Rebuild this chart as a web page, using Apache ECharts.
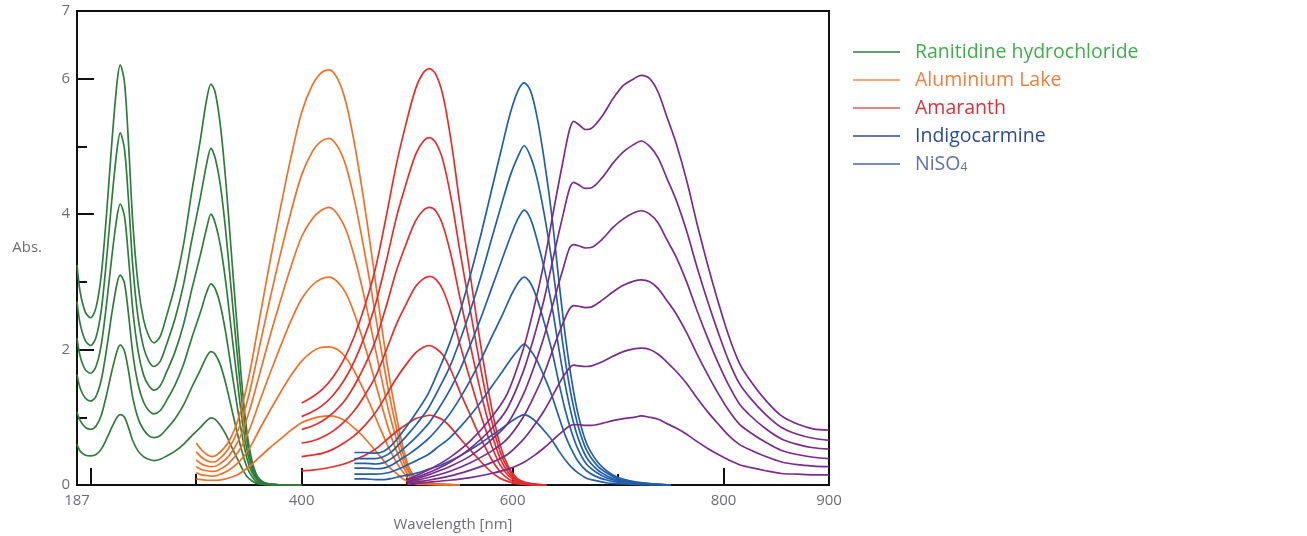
<!DOCTYPE html>
<html>
<head>
<meta charset="utf-8">
<script src="https://cdn.jsdelivr.net/npm/echarts@6/dist/echarts.min.js"></script>
<style>
html,body{margin:0;padding:0;background:#fff;}
#chart{width:1307px;height:536px;}
</style>
</head>
<body>
<div id="chart"></div>
<script>
// ---------- data ----------
const dyeNames = ['Ranitidine hydrochloride', 'Aluminium Lake', 'Amaranth', 'Indigocarmine', 'NiSO4'];

const wlRanitidine = [187,190,195,200,205,210,215,220,225,228,232,236,240,245,250,255,260,266,272,280,288,296,304,310,314,318,323,328,333,338,343,348,353,358,364,372,385,400];
const absRanitidine = [
  [3.25,2.85,2.55,2.47,2.62,3.1,4.0,5.05,5.95,6.2,5.95,5.0,3.85,2.95,2.45,2.2,2.1,2.2,2.5,2.95,3.55,4.35,5.1,5.7,5.92,5.8,5.3,4.5,3.5,2.5,1.55,0.8,0.35,0.13,0.04,0.01,0,0],
  [2.71,2.38,2.13,2.06,2.18,2.58,3.33,4.21,4.96,5.2,4.96,4.17,3.21,2.46,2.04,1.83,1.75,1.83,2.08,2.46,2.96,3.63,4.25,4.75,4.97,4.83,4.42,3.75,2.92,2.08,1.29,0.67,0.29,0.11,0.03,0.01,0,0],
  [2.17,1.9,1.7,1.65,1.75,2.07,2.67,3.37,3.97,4.15,3.97,3.33,2.57,1.97,1.63,1.47,1.4,1.47,1.67,1.97,2.37,2.9,3.4,3.8,4.0,3.87,3.53,3.0,2.33,1.67,1.03,0.53,0.23,0.09,0.03,0.01,0,0],
  [1.63,1.43,1.28,1.24,1.31,1.55,2.0,2.53,2.98,3.1,2.98,2.5,1.93,1.48,1.23,1.1,1.05,1.1,1.25,1.48,1.78,2.18,2.55,2.85,2.97,2.9,2.65,2.25,1.75,1.25,0.78,0.4,0.18,0.07,0.02,0.01,0,0],
  [1.08,0.95,0.85,0.82,0.87,1.03,1.33,1.68,1.98,2.07,1.98,1.67,1.28,0.98,0.82,0.73,0.7,0.73,0.83,0.98,1.18,1.45,1.7,1.9,1.97,1.93,1.77,1.5,1.17,0.83,0.52,0.27,0.12,0.04,0.01,0,0,0],
  [0.6,0.5,0.44,0.43,0.45,0.53,0.68,0.85,1.0,1.04,1.0,0.84,0.65,0.5,0.42,0.38,0.36,0.38,0.43,0.5,0.6,0.73,0.85,0.95,0.99,0.97,0.88,0.75,0.58,0.42,0.26,0.13,0.06,0.02,0.01,0,0,0]
];

const wlAluminium = [300,305,310,315,320,330,340,350,360,370,380,390,400,410,418,426,434,442,450,458,466,474,482,490,497,503,510,520,535,550];
const absAluminium = [
  [0.62,0.52,0.45,0.42,0.45,0.62,0.98,1.6,2.45,3.3,4.1,4.85,5.5,5.9,6.08,6.13,6.0,5.65,5.05,4.3,3.45,2.55,1.7,1.0,0.5,0.22,0.08,0.03,0.01,0],
  [0.49,0.41,0.36,0.34,0.36,0.52,0.82,1.33,2.04,2.75,3.42,4.04,4.58,4.92,5.07,5.12,5.0,4.71,4.21,3.58,2.88,2.13,1.42,0.83,0.42,0.18,0.07,0.03,0.01,0],
  [0.37,0.31,0.28,0.27,0.29,0.41,0.65,1.07,1.63,2.2,2.73,3.23,3.67,3.93,4.05,4.1,4.0,3.77,3.37,2.87,2.3,1.7,1.13,0.67,0.33,0.15,0.05,0.02,0.01,0],
  [0.27,0.23,0.21,0.2,0.21,0.31,0.49,0.8,1.23,1.65,2.05,2.43,2.75,2.95,3.04,3.07,3.0,2.83,2.53,2.15,1.73,1.28,0.85,0.5,0.25,0.11,0.04,0.02,0,0],
  [0.18,0.15,0.14,0.13,0.14,0.21,0.33,0.53,0.82,1.1,1.37,1.62,1.83,1.97,2.03,2.04,2.0,1.88,1.68,1.43,1.15,0.85,0.57,0.33,0.17,0.07,0.03,0.01,0,0],
  [0.09,0.08,0.07,0.07,0.07,0.1,0.16,0.27,0.41,0.55,0.68,0.81,0.92,0.98,1.01,1.02,1.0,0.94,0.84,0.72,0.58,0.43,0.28,0.17,0.08,0.04,0.01,0.01,0,0]
];

const wlAmaranth = [400,410,420,430,440,450,460,470,480,490,500,508,515,521,527,534,542,550,558,565,572,580,588,596,604,612,622,632];
const absAmaranth = [
  [1.21,1.3,1.42,1.6,1.85,2.2,2.65,3.2,3.95,4.75,5.4,5.85,6.08,6.15,6.07,5.75,5.05,4.15,3.3,2.55,1.85,1.15,0.6,0.27,0.1,0.04,0.01,0],
  [1.01,1.08,1.18,1.33,1.54,1.83,2.21,2.67,3.29,3.96,4.5,4.88,5.07,5.13,5.06,4.79,4.21,3.46,2.75,2.13,1.54,0.96,0.5,0.23,0.08,0.03,0.01,0],
  [0.82,0.87,0.95,1.07,1.23,1.47,1.77,2.13,2.63,3.17,3.6,3.9,4.05,4.1,4.05,3.83,3.37,2.77,2.2,1.7,1.23,0.77,0.4,0.18,0.07,0.03,0.01,0],
  [0.62,0.65,0.71,0.8,0.93,1.1,1.33,1.6,1.98,2.38,2.7,2.93,3.04,3.08,3.04,2.88,2.53,2.08,1.65,1.28,0.93,0.58,0.3,0.14,0.05,0.02,0,0],
  [0.42,0.44,0.47,0.53,0.62,0.73,0.88,1.07,1.32,1.58,1.8,1.95,2.03,2.06,2.02,1.92,1.68,1.38,1.1,0.85,0.62,0.38,0.2,0.09,0.03,0.01,0,0],
  [0.21,0.22,0.24,0.27,0.31,0.37,0.44,0.53,0.66,0.79,0.9,0.98,1.01,1.03,1.01,0.96,0.84,0.69,0.55,0.43,0.31,0.19,0.1,0.05,0.02,0.01,0,0]
];

const wlIndigo = [450,460,470,478,486,494,502,510,520,530,540,550,560,570,580,590,598,605,611,617,623,630,637,644,650,656,662,670,680,690,700,715,730,750];
const absIndigo = [
  [0.48,0.48,0.47,0.5,0.6,0.75,0.92,1.1,1.35,1.7,2.08,2.55,3.1,3.7,4.35,5.0,5.5,5.82,5.94,5.82,5.45,4.8,4.0,3.0,2.2,1.55,1.05,0.62,0.35,0.2,0.11,0.05,0.02,0],
  [0.39,0.39,0.39,0.42,0.5,0.63,0.77,0.92,1.13,1.42,1.73,2.13,2.58,3.08,3.63,4.17,4.58,4.85,5.01,4.85,4.54,4.0,3.33,2.5,1.83,1.29,0.88,0.52,0.29,0.17,0.09,0.04,0.02,0],
  [0.32,0.32,0.31,0.33,0.4,0.5,0.61,0.73,0.9,1.13,1.39,1.7,2.07,2.47,2.9,3.33,3.67,3.93,4.06,3.93,3.63,3.2,2.67,2.0,1.47,1.03,0.7,0.41,0.23,0.13,0.07,0.03,0.01,0],
  [0.25,0.25,0.24,0.25,0.3,0.38,0.46,0.55,0.68,0.85,1.04,1.28,1.55,1.85,2.18,2.5,2.78,2.98,3.07,2.98,2.76,2.4,2.0,1.5,1.1,0.78,0.53,0.31,0.18,0.1,0.06,0.03,0.01,0],
  [0.16,0.16,0.16,0.17,0.2,0.25,0.31,0.37,0.45,0.57,0.69,0.85,1.03,1.23,1.45,1.67,1.85,1.99,2.08,1.99,1.84,1.6,1.33,1.0,0.73,0.52,0.35,0.21,0.12,0.07,0.04,0.02,0.01,0],
  [0.09,0.09,0.08,0.08,0.1,0.13,0.15,0.18,0.23,0.28,0.35,0.43,0.52,0.62,0.73,0.84,0.93,1.0,1.04,1.0,0.92,0.8,0.67,0.5,0.37,0.26,0.18,0.1,0.06,0.03,0.02,0.01,0,0]
];

const wlNiso = [500,520,540,560,580,595,610,620,630,640,648,654,658,663,669,675,685,695,705,715,722,730,738,746,755,765,775,785,795,805,815,825,840,855,870,885,900];
const absNiso = [
  [0.08,0.22,0.4,0.65,1.0,1.35,2.0,2.6,3.3,4.15,4.8,5.25,5.37,5.32,5.25,5.27,5.45,5.7,5.9,6.0,6.05,6.0,5.8,5.45,5.05,4.5,3.85,3.25,2.7,2.2,1.8,1.55,1.25,1.02,0.9,0.83,0.81],
  [0.07,0.18,0.33,0.54,0.83,1.13,1.67,2.17,2.75,3.46,4.0,4.38,4.47,4.43,4.38,4.39,4.54,4.75,4.92,5.03,5.08,5.0,4.83,4.54,4.21,3.75,3.21,2.71,2.25,1.83,1.5,1.29,1.04,0.85,0.75,0.69,0.66],
  [0.05,0.15,0.27,0.43,0.67,0.9,1.33,1.73,2.2,2.77,3.2,3.5,3.55,3.53,3.5,3.51,3.63,3.8,3.93,4.02,4.05,4.0,3.87,3.63,3.37,3.0,2.57,2.17,1.8,1.47,1.2,1.03,0.83,0.68,0.6,0.55,0.53],
  [0.04,0.11,0.2,0.33,0.5,0.68,1.0,1.3,1.65,2.08,2.4,2.6,2.65,2.64,2.62,2.63,2.73,2.85,2.95,3.01,3.03,3.0,2.9,2.73,2.53,2.25,1.93,1.63,1.35,1.1,0.9,0.78,0.63,0.51,0.45,0.41,0.39],
  [0.03,0.07,0.13,0.22,0.33,0.45,0.67,0.87,1.1,1.38,1.6,1.73,1.77,1.76,1.75,1.76,1.82,1.9,1.97,2.01,2.02,2.0,1.93,1.82,1.68,1.5,1.28,1.08,0.9,0.73,0.6,0.52,0.42,0.34,0.3,0.28,0.27],
  [0.01,0.04,0.07,0.11,0.17,0.23,0.33,0.43,0.55,0.69,0.8,0.87,0.89,0.89,0.88,0.88,0.91,0.95,0.98,1.0,1.02,1.0,0.97,0.91,0.84,0.75,0.64,0.54,0.45,0.37,0.3,0.26,0.21,0.17,0.16,0.15,0.15]
];

const xLabelValues = [187, 400, 600, 800, 900];
const xMajorTicks = [200, 400, 600, 800];
const xMinorTicks = [300, 500, 700];
const yLabelValues = [0, 2, 4, 6, 7];
const yMajorTicks = [2, 4, 6];
const yMinorTicks = [1, 3, 5];

// ---------- styling ----------
const lineColors = ['#2f7d3c', '#f36f26', '#eb2a2c', '#215eae', '#7a2b8c'];
const legendLineColors = ['#2f7d3c', '#f58a4b', '#e35a60', '#2c4b96', '#4a64ad'];
const legendTextColors = ['#3fae49', '#f47c3c', '#d9303a', '#2c4b96', '#6070a8'];
const gray = '#6d6e71';
const font = 'Open Sans';

const dyes = [
  [wlRanitidine, absRanitidine],
  [wlAluminium, absAluminium],
  [wlAmaranth, absAmaranth],
  [wlIndigo, absIndigo],
  [wlNiso, absNiso]
];

const series = [];
dyes.forEach(([wl, curves], di) => {
  curves.forEach(vals => {
    series.push({
      type: 'line',
      name: dyeNames[di],
      data: wl.map((w, i) => [w, vals[i]]),
      showSymbol: false,
      smooth: 0.3,
      silent: true,
      lineStyle: { color: lineColors[di], width: 1.7 },
      itemStyle: { color: lineColors[di] },
      xAxisIndex: 0,
      yAxisIndex: 0
    });
  });
});

const chart = echarts.init(document.getElementById('chart'), null, { renderer: 'canvas' });
chart.setOption({
  animation: false,
  grid: { left: 77, right: 478, top: 11, bottom: 51, show: true, borderColor: '#111', borderWidth: 2,
    containLabel: false, outerBoundsMode: 'none' },
  legend: {
    orient: 'vertical',
    left: 853,
    top: 42,
    padding: 0,
    itemWidth: 47,
    itemHeight: 1.6,
    itemGap: 8,
    icon: 'rect',
    selectedMode: false,
    textStyle: { fontSize: 19.5, lineHeight: 20, fontFamily: font, padding: [0, 0, 0, 10],
      rich: { sub: { fontSize: 12, color: legendTextColors[4], fontFamily: font, padding: [7, 0, 0, 0] } } },
    formatter: n => n === 'NiSO4' ? 'NiSO{sub|4}' : n,
    data: dyeNames.map((n, i) => ({
      name: n,
      itemStyle: { color: legendLineColors[i] },
      textStyle: { color: legendTextColors[i] }
    }))
  },
  xAxis: [
    {
      type: 'value', min: 187, max: 900, position: 'bottom',
      name: 'Wavelength [nm]', nameLocation: 'middle', nameGap: 32,
      nameTextStyle: { color: gray, fontSize: 15, fontFamily: font },
      axisLine: { show: true, lineStyle: { color: '#111', width: 2 } },
      axisTick: { show: true, inside: true, length: 17, customValues: xMajorTicks, lineStyle: { color: '#111', width: 2 } },
      axisLabel: { show: true, customValues: xLabelValues, color: gray, fontSize: 15, fontFamily: font, margin: 8 },
      splitLine: { show: false }
    },
    {
      type: 'value', min: 187, max: 900, position: 'bottom', offset: 0,
      axisLine: { show: false },
      axisTick: { show: true, inside: true, length: 11, customValues: xMinorTicks, lineStyle: { color: '#111', width: 2 } },
      axisLabel: { show: false },
      splitLine: { show: false }
    }
  ],
  yAxis: [
    {
      type: 'value', min: 0, max: 7, position: 'left',
      name: 'Abs.', nameLocation: 'middle', nameRotate: 0, nameGap: 35,
      nameTextStyle: { color: gray, fontSize: 15, fontFamily: font },
      axisLine: { show: true, lineStyle: { color: '#111', width: 2 } },
      axisTick: { show: true, inside: true, length: 17, customValues: yMajorTicks, lineStyle: { color: '#111', width: 2 } },
      axisLabel: { show: true, customValues: yLabelValues, color: gray, fontSize: 15, fontFamily: font, margin: 7 },
      splitLine: { show: false }
    },
    {
      type: 'value', min: 0, max: 7, position: 'left', offset: 0,
      axisLine: { show: false },
      axisTick: { show: true, inside: true, length: 10, customValues: yMinorTicks, lineStyle: { color: '#111', width: 2 } },
      axisLabel: { show: false },
      splitLine: { show: false }
    }
  ],
  series: series
});
</script>
</body>
</html>
